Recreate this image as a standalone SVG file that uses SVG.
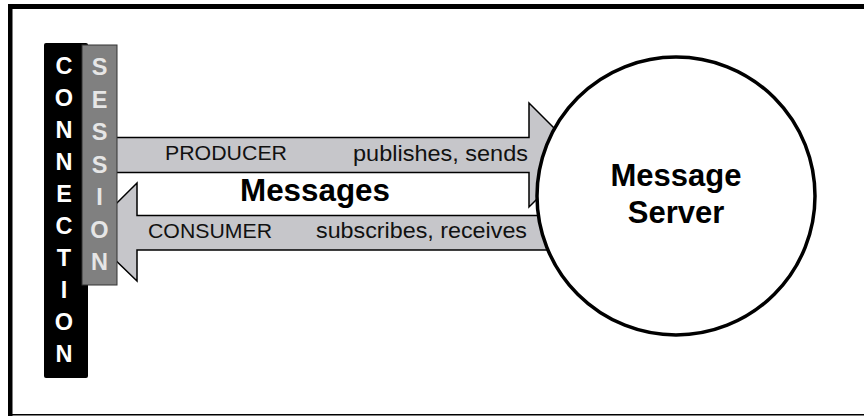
<svg xmlns="http://www.w3.org/2000/svg" width="864" height="416" viewBox="0 0 864 416">
<style>
.arrow{fill:#c6c6ca;stroke:#000;stroke-width:1.5;stroke-linejoin:miter}
.lbl{font-family:"Liberation Sans",Arial,sans-serif;fill:#111}
.caps{font-size:21px}
.low{font-size:22px}
.big{font-family:"Liberation Sans",Arial,sans-serif;font-weight:bold;font-size:31px;fill:#000}
.vc{font-family:"Liberation Sans",Arial,sans-serif;font-weight:bold;font-size:23.5px;text-anchor:middle}
</style>
<rect x="0" y="0" width="864" height="416" fill="#fff"/>
<g id="frame" fill="#000">
<rect x="8" y="4" width="856" height="5"/>
<rect x="8" y="4" width="4.5" height="412"/>
<rect x="8" y="414" width="856" height="1.5"/>
</g>
<g id="connectors">
<path class="arrow" d="M110,137.5 L529,137.5 L529,103 L581,155 L529,207 L529,172.5 L110,172.5 Z"/>
<path class="arrow" d="M560,215.5 L137,215.5 L137,183 L87,232.7 L137,281 L137,250 L560,250 Z"/>
<text class="lbl caps" x="165" y="160" textLength="122" lengthAdjust="spacingAndGlyphs">PRODUCER</text>
<text class="lbl low" x="353" y="161" textLength="175" lengthAdjust="spacingAndGlyphs">publishes, sends</text>
<text class="lbl caps" x="148" y="238" textLength="124" lengthAdjust="spacingAndGlyphs">CONSUMER</text>
<text class="lbl low" x="316" y="238" textLength="211" lengthAdjust="spacingAndGlyphs">subscribes, receives</text>
<text class="big" x="240" y="201" textLength="150" lengthAdjust="spacingAndGlyphs">Messages</text>
</g>
<g id="connection">
<rect x="44" y="43" width="44" height="335" rx="2" fill="#000"/>
<g class="vc" fill="#fff">
<text x="64" y="73.5">C</text>
<text x="64" y="105.6">O</text>
<text x="64" y="137.7">N</text>
<text x="64" y="169.8">N</text>
<text x="64" y="201.9">E</text>
<text x="64" y="234">C</text>
<text x="64" y="266.1">T</text>
<text x="64" y="298.2">I</text>
<text x="64" y="330.3">O</text>
<text x="64" y="362.4">N</text>
</g>
</g>
<g id="session">
<rect x="82" y="45" width="35" height="240" fill="#808080" stroke="#333" stroke-width="1"/>
<g class="vc" fill="#e6e6e6">
<text x="99.5" y="75">S</text>
<text x="99.5" y="107.5">E</text>
<text x="99.5" y="140">S</text>
<text x="99.5" y="172.5">S</text>
<text x="99.5" y="205">I</text>
<text x="99.5" y="237.5">O</text>
<text x="99.5" y="270">N</text>
</g>
</g>
<g id="server">
<circle cx="676" cy="196" r="139" fill="#fff" stroke="#000" stroke-width="3.5"/>
<text class="big" x="676" y="186" text-anchor="middle">Message</text>
<text class="big" x="676" y="223" text-anchor="middle">Server</text>
</g>
</svg>
